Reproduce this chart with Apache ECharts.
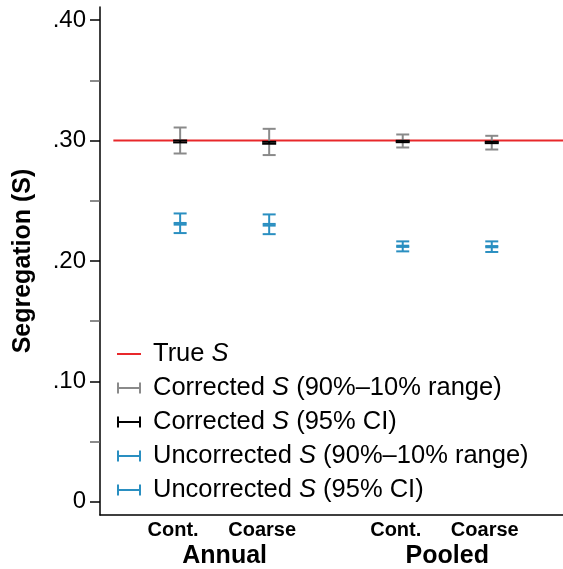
<!DOCTYPE html>
<html>
<head>
<meta charset="utf-8">
<script src="https://cdn.jsdelivr.net/npm/echarts@6/dist/echarts.min.js"></script>
<style>
  html, body { margin: 0; padding: 0; background: #fff; }
  #chart { width: 563px; height: 569px; }
</style>
</head>
<body>
<div id="chart"></div>
<script>
  // data
  var catLabels = ['Cont.', 'Coarse', 'Cont.', 'Coarse']
  var catPos = [1, 2, 3.5, 4.5]
  var groupLabels = ['Annual', 'Pooled']
  var groupPos = [1.5, 4]
  var yTicks = [0, 0.1, 0.2, 0.3, 0.4]
  var yMinorTicks = [0.05, 0.15, 0.25, 0.35]
  var trueS = 0.30
  var trueLineX = [0.25, 5.3]

  var corrRangeLow = [0.2893, 0.2880, 0.2943, 0.2926]
  var corrRangeHigh = [0.3109, 0.3098, 0.3051, 0.3040]
  var corrCILow = [0.2985, 0.2974, 0.2987, 0.2979]
  var corrCIHigh = [0.3001, 0.2990, 0.2999, 0.2991]
  var uncRangeLow = [0.2232, 0.2223, 0.2080, 0.2075]
  var uncRangeHigh = [0.2395, 0.2387, 0.2163, 0.2163]
  var uncCILow = [0.2302, 0.2294, 0.2117, 0.2114]
  var uncCIHigh = [0.2316, 0.2308, 0.2127, 0.2124]

  var FONT = '"Liberation Sans", Arial, sans-serif'
  var RED = '#e8282b'
  var GRAY = '#8a8a8a'
  var BLACK = '#000000'
  var BLUE = '#2a8fc1'
  var ebIcon = 'path://M0,0h2v11h-2zM0,4.5h24v2h-24zM22,0h2v11h-2z'

  function nearest (arr, v) {
    var best = 0
    for (var i = 1; i < arr.length; i++) {
      if (Math.abs(arr[i] - v) < Math.abs(arr[best] - v)) best = i
    }
    return best
  }

  function errorBar (color, capHalf, width) {
    return function (params, api) {
      var lo = api.coord([api.value(0), api.value(1)])
      var hi = api.coord([api.value(0), api.value(2)])
      var x = lo[0]
      var st = {stroke: color, lineWidth: width}
      return {
        type: 'group',
        children: [
          {type: 'line', shape: {x1: x, y1: hi[1], x2: x, y2: lo[1]}, style: st},
          {type: 'line', shape: {x1: x - capHalf, y1: hi[1], x2: x + capHalf, y2: hi[1]}, style: st},
          {type: 'line', shape: {x1: x - capHalf, y1: lo[1], x2: x + capHalf, y2: lo[1]}, style: st}
        ]
      }
    }
  }

  function rows (low, high) {
    return catPos.map(function (p, i) { return [p, low[i], high[i]] })
  }

  function ebSeries (name, color, capHalf, width, low, high, z) {
    return {
      name: name,
      type: 'custom',
      renderItem: errorBar(color, capHalf, width),
      itemStyle: {color: color},
      encode: {x: 0, y: [1, 2]},
      data: rows(low, high),
      z: z
    }
  }

  var names = [
    'True S',
    'Corrected S (90%–10% range)',
    'Corrected S (95% CI)',
    'Uncorrected S (90%–10% range)',
    'Uncorrected S (95% CI)'
  ]

  var myChart = echarts.init(document.getElementById('chart'))
  var option = {
    animation: false,
    backgroundColor: '#fff',
    grid: {left: 100, right: 0, top: 7, bottom: 54},
    legend: {
      orient: 'vertical',
      left: 116,
      top: 341,
      padding: 0,
      itemWidth: 24,
      itemHeight: 11,
      itemGap: 8,
      selectedMode: false,
      data: [
        {name: names[0], itemStyle: {opacity: 0}, lineStyle: {color: RED, width: 2, opacity: 1}},
        {name: names[1], icon: ebIcon},
        {name: names[2], icon: ebIcon},
        {name: names[3], icon: ebIcon},
        {name: names[4], icon: ebIcon}
      ],
      formatter: function (name) {
        var parts = name.split(' S')
        return '{g| }{n|' + parts[0] + ' }{i|S}{n|' + parts[1] + '}'
      },
      textStyle: {
        color: '#000',
        fontFamily: FONT,
        fontSize: 25.5,
        lineHeight: 24,
        rich: {
          g: {width: 7, fontSize: 20},
          n: {fontFamily: FONT, fontSize: 25.5, color: '#000', lineHeight: 24},
          i: {fontFamily: FONT, fontSize: 25.5, color: '#000', fontStyle: 'italic', lineHeight: 24}
        }
      }
    },
    xAxis: [
      {
        type: 'value',
        min: 0.1,
        max: 5.3,
        position: 'bottom',
        splitLine: {show: false},
        axisLine: {show: true, onZero: false, lineStyle: {color: '#000', width: 1.5}},
        axisTick: {show: false},
        axisLabel: {
          customValues: catPos,
          formatter: function (v) { return catLabels[nearest(catPos, v)] },
          color: '#000',
          fontFamily: FONT,
          fontSize: 20,
          fontWeight: 'bold',
          margin: 5,
          padding: [0, 14, 0, 0]
        }
      },
      {
        type: 'value',
        min: 0.1,
        max: 5.3,
        position: 'bottom',
        splitLine: {show: false},
        axisLine: {show: false, onZero: false},
        axisTick: {show: false},
        axisLabel: {
          customValues: groupPos,
          formatter: function (v) { return groupLabels[nearest(groupPos, v)] },
          color: '#000',
          fontFamily: FONT,
          fontSize: 25,
          fontWeight: 'bold',
          margin: 29
        }
      }
    ],
    yAxis: [
      {
        type: 'value',
        min: -0.011,
        max: 0.411,
        position: 'left',
        name: 'Segregation (S)',
        nameLocation: 'middle',
        nameGap: 64,
        nameTextStyle: {color: '#000', fontFamily: FONT, fontSize: 25, fontWeight: 'bold'},
        splitLine: {show: false},
        axisLine: {show: true, onZero: false, lineStyle: {color: '#000', width: 1.5}},
        axisTick: {show: true, customValues: yTicks, length: 10, lineStyle: {color: '#000', width: 1.5}},
        axisLabel: {
          customValues: yTicks,
          formatter: function (v) { return v === 0 ? '0' : v.toFixed(2).replace(/^0/, '') },
          color: '#000',
          fontFamily: FONT,
          fontSize: 24,
          margin: 14
        }
      },
      {
        type: 'value',
        min: -0.011,
        max: 0.411,
        position: 'left',
        splitLine: {show: false},
        axisLine: {show: false, onZero: false},
        axisTick: {show: true, customValues: yMinorTicks, length: 10, lineStyle: {color: '#666', width: 1.5}},
        axisLabel: {show: false, customValues: yMinorTicks}
      }
    ],
    series: [
      {
        name: names[0],
        type: 'line',
        symbol: 'none',
        showSymbol: false,
        lineStyle: {color: RED, width: 2},
        itemStyle: {color: RED},
        data: [[trueLineX[0], trueS], [trueLineX[1], trueS]],
        z: 1
      },
      ebSeries(names[1], GRAY, 6.5, 2, corrRangeLow, corrRangeHigh, 2),
      ebSeries(names[2], BLACK, 7, 2, corrCILow, corrCIHigh, 3),
      ebSeries(names[3], BLUE, 6.5, 2, uncRangeLow, uncRangeHigh, 2),
      ebSeries(names[4], BLUE, 6.5, 2, uncCILow, uncCIHigh, 3)
    ]
  }
  myChart.setOption(option)
</script>
</body>
</html>
